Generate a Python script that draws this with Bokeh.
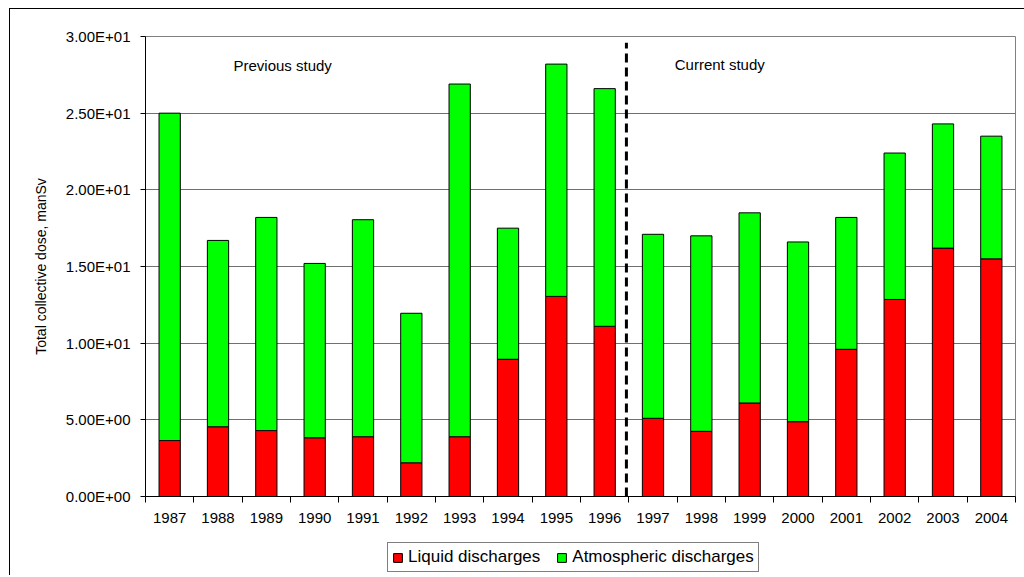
from bokeh.plotting import figure
from bokeh.layouts import column
from bokeh.models import Range1d, FixedTicker, ColumnDataSource, Legend, LegendItem, Label
from bokeh.embed import file_html
from bokeh.resources import INLINE

years = ["1987", "1988", "1989", "1990", "1991", "1992", "1993", "1994", "1995",
         "1996", "1997", "1998", "1999", "2000", "2001", "2002", "2003", "2004"]
liquid = [3.65, 4.55, 4.3, 3.83, 3.9, 2.2, 3.9, 8.95, 13.05,
          11.1, 5.1, 4.25, 6.1, 4.88, 9.6, 12.85, 16.2, 15.5]
atmospheric = [21.35, 12.15, 13.9, 11.37, 14.15, 9.75, 23.0, 8.55, 15.15,
               15.5, 12.0, 12.75, 12.4, 11.72, 8.6, 9.55, 8.1, 8.0]
y_ticks = [0, 5, 10, 15, 20, 25, 30]
y_tick_labels = ["0.00E+00", "5.00E+00", "1.00E+01", "1.50E+01",
                 "2.00E+01", "2.50E+01", "3.00E+01"]
series_names = ["Liquid discharges", "Atmospheric discharges"]
series_colors = ["#FF0000", "#00FF00"]
study_labels = ["Previous study", "Current study"]

FONT = "Liberation Sans"
n = len(years)
xs = [i + 0.5 for i in range(n)]
src = ColumnDataSource(dict(x=xs, liquid=liquid, atmospheric=atmospheric))

W = 1014
p = figure(width=W, height=521, x_range=Range1d(0, n), y_range=Range1d(0, 30),
           output_backend="svg", toolbar_location=None,
           min_border_left=135, min_border_right=9, min_border_top=27, min_border_bottom=34)
p.background_fill_color = "white"
p.border_fill_color = "white"
p.outline_line_color = "#808080"

rs = p.vbar_stack(["liquid", "atmospheric"], x="x", width=0.44, source=src,
                  fill_color=series_colors, line_color="black", line_width=1)

split = years.index("1997")
p.segment(x0=[split - 0.05], y0=[0], x1=[split - 0.05], y1=[29.6], line_color="black",
          line_width=3, line_dash="9 5")

# axes
xa = p.xaxis[0]
xa.ticker = FixedTicker(ticks=xs, minor_ticks=list(range(n + 1)))
xa.major_label_overrides = {x: y for x, y in zip(xs, years)}
xa.major_tick_out = 0
xa.major_tick_in = 0
xa.minor_tick_out = 6
xa.minor_tick_in = 0
xa.minor_tick_line_color = "black"
xa.axis_line_color = "black"
xa.major_label_text_font = FONT
xa.major_label_text_font_size = "15px"
xa.major_label_text_color = "black"
xa.major_label_standoff = 10

ya = p.yaxis[0]
ya.ticker = FixedTicker(ticks=y_ticks, minor_ticks=[])
ya.major_label_overrides = {t: l for t, l in zip(y_ticks, y_tick_labels)}
ya.major_tick_out = 5
ya.major_tick_in = 0
ya.axis_line_color = "black"
ya.major_tick_line_color = "black"
ya.major_label_text_font = FONT
ya.major_label_text_font_size = "15px"
ya.major_label_text_color = "black"
ya.major_label_standoff = 10
ya.axis_label = "Total collective dose, manSv"
ya.axis_label_text_font = FONT
ya.axis_label_text_font_size = "14px"
ya.axis_label_text_font_style = "normal"
ya.axis_label_text_color = "black"
ya.axis_label_standoff = 14

p.xgrid.visible = False
p.ygrid.ticker = FixedTicker(ticks=y_ticks)
p.ygrid.grid_line_color = "#707070"
p.ygrid.grid_line_width = 1

p.add_layout(Label(x=1.82, y=28.1, text=study_labels[0], text_font=FONT,
                   text_font_size="15px", text_baseline="middle", text_color="black"))
p.add_layout(Label(x=10.95, y=28.2, text=study_labels[1], text_font=FONT,
                   text_font_size="15px", text_baseline="middle", text_color="black"))

# legend strip below the chart (same stacked bars, drawn out of view; only the legend shows)
lp = figure(width=W, height=45, x_range=Range1d(0, n), y_range=Range1d(100, 101),
            output_backend="svg", toolbar_location=None,
            min_border_left=0, min_border_right=0, min_border_top=0, min_border_bottom=0)
lp.axis.visible = False
lp.grid.visible = False
lp.outline_line_color = None
lp.background_fill_color = "white"
lp.border_fill_color = "white"
lr = lp.vbar_stack(["liquid", "atmospheric"], x="x", width=0.44, source=src,
                   fill_color=series_colors, line_color="black", line_width=1)
legend = Legend(items=[LegendItem(label=s, renderers=[r]) for s, r in zip(series_names, lr)],
                orientation="horizontal", location=(242, 3))
legend.label_text_font = FONT
legend.label_text_font_size = "17px"
legend.label_text_color = "black"
legend.glyph_width = 11
legend.glyph_height = 11
legend.label_standoff = 5
legend.label_height = 16
legend.spacing = 16
legend.padding = 4
legend.margin = 0
legend.border_line_color = "black"
legend.border_line_width = 1
lp.add_layout(legend, "center")

layout = column(p, lp, spacing=0,
                styles={"border-left": "1px solid black", "border-top": "1px solid black"},
                margin=(8, 0, 0, 9))

open("out.html", "w").write(file_html(layout, INLINE))
